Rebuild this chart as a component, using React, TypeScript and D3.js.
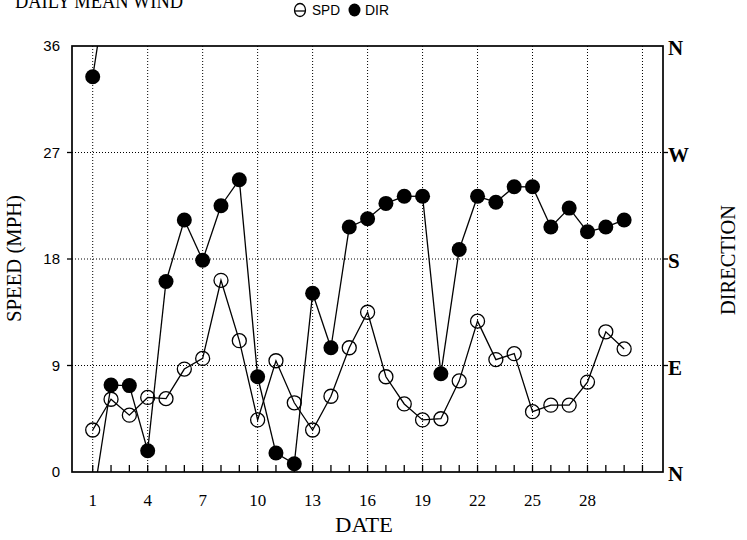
import React from "react";
import * as d3 from "d3";

const DAYS = [1,2,3,4,5,6,7,8,9,10,11,12,13,14,15,16,17,18,19,20,21,22,23,24,25,26,27,28,29,30];
const SPD = [3.55,6.15,4.8,6.3,6.2,8.7,9.6,16.2,11.1,4.4,9.4,5.85,3.55,6.4,10.5,13.5,8.05,5.75,4.4,4.5,7.7,12.75,9.5,10.0,5.1,5.65,5.65,7.6,11.85,10.4];
const DIR = [33.4,7.35,7.3,1.8,16.1,21.3,17.9,22.5,24.7,8.05,1.6,0.7,15.1,10.5,20.7,21.4,22.7,23.3,23.3,8.3,18.8,23.3,22.8,24.1,24.1,20.7,22.3,20.3,20.7,21.3];
const X_LABELS = [1,4,7,10,13,16,19,22,25,28];
const X_GRID = [1,4,7,10,13,16,19,22,25,28,31];
const X_MINOR = [1,2,3,4,5,6,7,8,9,10,11,12,13,14,15,16,17,18,19,20,21,22,23,24,25,26,27,28,29,30,31];
const Y_TICKS = [0,9,18,27,36];
const Y_GRID = [9,18,27];
const DIR_LABELS = ["N","E","S","W","N"];

const L = 72, R = 663, T = 46, B = 472;

export default function App() {
  const x = d3.scaleLinear().domain([-0.13, 32.12]).range([L, R]);
  const y = d3.scaleLinear().domain([0, 36]).range([B, T]);
  const line = d3.line<[number, number]>().x(d => x(d[0])).y(d => y(d[1]));

  const spdPath = line(DAYS.map((d, i) => [d, SPD[i]] as [number, number])) || "";

  // direction segments with wrap-around across N
  const dirSegs: string[] = [];
  for (let i = 0; i < DAYS.length - 1; i++) {
    const a = DIR[i], b = DIR[i + 1];
    const d0 = DAYS[i], d1 = DAYS[i + 1];
    if (Math.abs(b - a) > 18) {
      if (b < a) {
        dirSegs.push(line([[d0, a], [d1, b + 36]]) || "");
        dirSegs.push(line([[d0, a - 36], [d1, b]]) || "");
      } else {
        dirSegs.push(line([[d0, a], [d1, b - 36]]) || "");
        dirSegs.push(line([[d0, a + 36], [d1, b]]) || "");
      }
    } else {
      dirSegs.push(line([[d0, a], [d1, b]]) || "");
    }
  }

  const serif = "'Liberation Serif', 'DejaVu Serif', serif";
  const sans = "'Liberation Sans', Arial, sans-serif";

  return (
    <div style={{ position: "absolute", left: 0, top: 0 }}>
      <svg width={747} height={540} style={{ display: "block", background: "#fff" }}>
        <defs>
          <clipPath id="plot">
            <rect x={L} y={T} width={R - L} height={B - T} />
          </clipPath>
        </defs>
        <rect width={747} height={540} fill="#fff" />

        {/* title */}
        <text x={15} y={7.5} fontFamily={serif} fontSize={20} textLength={168} lengthAdjust="spacingAndGlyphs">DAILY MEAN WIND</text>

        {/* legend */}
        <ellipse cx={300} cy={10} rx={5.5} ry={6.5} fill="none" stroke="#000" strokeWidth={1.3} />
        <line x1={294.5} x2={305.5} y1={11} y2={11} stroke="#000" strokeWidth={1.3} />
        <text x={312} y={15} fontFamily={sans} fontSize={14} textLength={28} lengthAdjust="spacingAndGlyphs">SPD</text>
        <ellipse cx={354.5} cy={10} rx={6} ry={6.5} fill="#000" />
        <text x={365} y={15} fontFamily={sans} fontSize={14} textLength={24} lengthAdjust="spacingAndGlyphs">DIR</text>

        {/* grid */}
        <g stroke="#000" strokeWidth={1} strokeDasharray="1 2">
          {X_GRID.map(d => (
            <line key={"gx" + d} x1={x(d)} x2={x(d)} y1={T} y2={B} />
          ))}
          {Y_GRID.map(v => (
            <line key={"gy" + v} x1={L} x2={R} y1={y(v)} y2={y(v)} />
          ))}
        </g>

        {/* minor ticks bottom */}
        <g stroke="#000" strokeWidth={1.3}>
          {X_MINOR.map(d => (
            <line key={"mt" + d} x1={x(d)} x2={x(d)} y1={B} y2={B - 7} />
          ))}
          {Y_GRID.map(v => (
            <line key={"lt" + v} x1={L - 5} x2={L} y1={y(v)} y2={y(v)} />
          ))}
          {Y_GRID.map(v => (
            <line key={"rt" + v} x1={R} x2={R + 5} y1={y(v)} y2={y(v)} />
          ))}
        </g>

        {/* series */}
        <g clipPath="url(#plot)">
          <path d={spdPath} fill="none" stroke="#000" strokeWidth={1.3} />
          {DAYS.map((d, i) => (
            <circle key={"s" + d} cx={x(d)} cy={y(SPD[i])} r={7} fill="none" stroke="#000" strokeWidth={1.3} />
          ))}
          {dirSegs.map((p, i) => (
            <path key={"ds" + i} d={p} fill="none" stroke="#000" strokeWidth={1.3} />
          ))}
          {DAYS.map((d, i) => (
            <circle key={"d" + d} cx={x(d)} cy={y(DIR[i])} r={7.5} fill="#000" />
          ))}
        </g>

        {/* frame */}
        <rect x={L} y={T} width={R - L} height={B - T} fill="none" stroke="#000" strokeWidth={1.7} />

        {/* left labels */}
        {Y_TICKS.map(v => (
          <text key={"yl" + v} x={60} y={y(v)} dy="0.35em" textAnchor="end" fontFamily={sans} fontSize={15}>{v}</text>
        ))}
        {/* right labels */}
        {Y_TICKS.map((v, i) => (
          <text key={"yr" + v} x={668} y={y(v) + 2} dy="0.35em" fontFamily={serif} fontWeight="bold" fontSize={21}>{DIR_LABELS[i]}</text>
        ))}
        {/* bottom labels */}
        {X_LABELS.map(d => (
          <text key={"xl" + d} x={x(d)} y={506} textAnchor="middle" fontFamily={serif} fontSize={17}>{d}</text>
        ))}

        {/* axis titles */}
        <text x={364} y={532} textAnchor="middle" fontFamily={serif} fontSize={21} textLength={58} lengthAdjust="spacingAndGlyphs">DATE</text>
        <text transform="translate(21,258.5) rotate(-90)" textAnchor="middle" fontFamily={serif} fontSize={20} textLength={127} lengthAdjust="spacingAndGlyphs">SPEED (MPH)</text>
        <text transform="translate(735,260) rotate(-90)" textAnchor="middle" fontFamily={serif} fontSize={20} textLength={110} lengthAdjust="spacingAndGlyphs">DIRECTION</text>
      </svg>
    </div>
  );
}
